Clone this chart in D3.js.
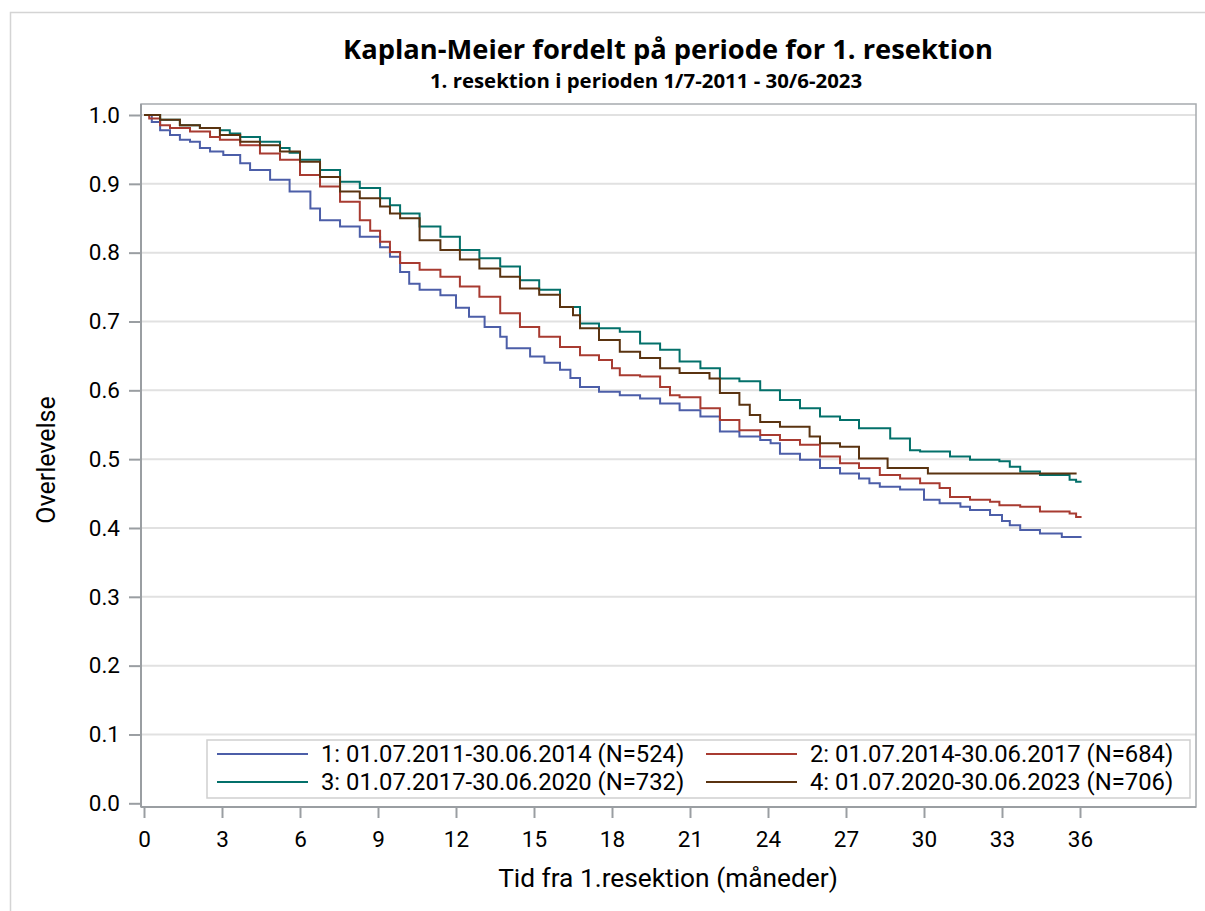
<!DOCTYPE html>
<html>
<head>
<meta charset="utf-8">
<script src="https://cdn.jsdelivr.net/npm/d3@7"></script>
<style>
  body { margin: 0; background: #fff; }
  text { font-family: Roboto, "Open Sans", sans-serif; fill: #000; }
  text.title { font-family: "Open Sans", sans-serif; font-weight: bold; }
</style>
</head>
<body>
<svg width="1205" height="911"></svg>
<script>
// Kaplan-Meier, overlevelse per periode
const labels = [
  "1: 01.07.2011-30.06.2014 (N=524)",
  "2: 01.07.2014-30.06.2017 (N=684)",
  "3: 01.07.2017-30.06.2020 (N=732)",
  "4: 01.07.2020-30.06.2023 (N=706)"
];
const colors = ["#4c5ea8", "#a83b31", "#03706a", "#5a3310"];

const t1 = [0,0.3,0.62,1,1.38,1.77,2.15,2.54,3.05,3.7,4.08,4.85,5.6,6.4,6.77,7.54,8.3,9.08,9.46,9.85,10.2,10.6,11.4,12,12.5,13.1,13.7,13.95,14.85,15.4,16,16.4,16.77,17.5,18.3,19.08,19.85,20.6,21.4,22.15,22.9,23.7,24.1,24.46,25.23,26,26.77,27.5,27.9,28.3,29.08,30,30.6,31.4,31.77,32.54,33,33.3,33.7,34.46,35.3,36.06];
const s1 = [1,0.99,0.978,0.971,0.964,0.961,0.952,0.947,0.942,0.93,0.92,0.906,0.889,0.864,0.847,0.838,0.823,0.808,0.794,0.772,0.755,0.746,0.738,0.72,0.707,0.692,0.678,0.661,0.649,0.64,0.63,0.618,0.605,0.598,0.593,0.588,0.581,0.571,0.562,0.54,0.533,0.528,0.523,0.508,0.499,0.487,0.479,0.472,0.465,0.46,0.456,0.441,0.436,0.431,0.426,0.419,0.41,0.404,0.397,0.392,0.387,0.387];

const t2 = [0,0.2,0.62,1,1.77,2.54,2.92,3.7,4.46,5.23,6,6.77,7.54,8.3,8.7,9.08,9.46,9.85,10.6,11.4,12.15,12.9,13.7,14.46,15.2,16,16.77,17.5,18,18.3,19.08,19.85,20.23,20.6,21.4,22.15,22.9,23.7,24.46,25.23,26,26.77,27.5,28.3,29.08,29.85,30.6,31,31.77,32.54,32.9,33.7,34.46,35.6,35.85,36.06];
const s2 = [1,0.995,0.985,0.981,0.976,0.968,0.964,0.956,0.944,0.935,0.913,0.896,0.874,0.847,0.832,0.816,0.801,0.785,0.775,0.765,0.751,0.736,0.712,0.692,0.678,0.663,0.651,0.644,0.632,0.622,0.62,0.605,0.593,0.59,0.574,0.557,0.542,0.535,0.528,0.521,0.504,0.494,0.487,0.477,0.472,0.465,0.458,0.445,0.441,0.438,0.433,0.431,0.424,0.421,0.416,0.416];

const t3 = [0,0.62,1.38,2.15,2.92,3.3,3.7,4.46,5.23,5.6,6,6.77,7.54,8.3,9.08,9.46,9.85,10.6,11.4,12.15,12.9,13.7,14.46,15.2,16,16.77,17.5,18.3,19.08,19.85,20.6,21.4,22.15,22.9,23.7,24.46,25.23,26,26.77,27.5,28.7,29.46,29.85,31,31.77,32.9,33.3,33.7,34.46,35.6,35.85,36.06];
const s3 = [1,0.993,0.985,0.981,0.978,0.973,0.968,0.961,0.952,0.945,0.935,0.92,0.903,0.894,0.879,0.869,0.857,0.838,0.823,0.804,0.792,0.78,0.76,0.746,0.721,0.697,0.69,0.685,0.668,0.659,0.642,0.632,0.617,0.613,0.6,0.586,0.574,0.562,0.557,0.545,0.53,0.513,0.511,0.504,0.499,0.497,0.489,0.482,0.477,0.47,0.467,0.467];

const t4 = [0,0.62,1.38,2.15,2.92,3.7,4.46,5.23,6,6.77,7.54,8.3,9.08,9.46,9.85,10.6,11.4,12.15,12.9,13.7,14.46,15.2,16,16.5,16.77,17.5,18.3,19.08,19.85,20.6,21.75,22.15,22.9,23.3,23.7,24.46,25.6,26,26.77,27.5,28.6,30.15,35.87];
const s4 = [1,0.993,0.985,0.981,0.971,0.961,0.956,0.947,0.932,0.91,0.889,0.879,0.867,0.857,0.85,0.818,0.804,0.79,0.777,0.765,0.748,0.739,0.721,0.709,0.69,0.673,0.656,0.647,0.632,0.625,0.617,0.596,0.579,0.564,0.554,0.547,0.533,0.523,0.518,0.501,0.487,0.479,0.479];

const times = [t1, t2, t3, t4];
const surv = [s1, s2, s3, s4];
const xTicks = d3.range(0, 37, 3);
const yTicks = d3.range(0, 11).map(d => d / 10);

const svg = d3.select("svg");

// ydre ramme
svg.append("rect")
  .attr("x", 10.5).attr("y", 12.5)
  .attr("width", 1220).attr("height", 920)
  .attr("fill", "none").attr("stroke", "#d4d4d4").attr("stroke-width", 1.5);

const pLeft = 141, pRight = 1196, pTop = 104, pBottom = 807;

const x = d3.scaleLinear().domain([0, 36]).range([144, 1080]);
const y = d3.scaleLinear().domain([0, 1]).range([803.3, 115]);

// gitterlinjer
svg.append("g")
  .selectAll("line")
  .data(yTicks.filter(d => d > 0))
  .enter()
  .append("line")
  .attr("x1", pLeft).attr("x2", pRight)
  .attr("y1", d => y(d)).attr("y2", d => y(d))
  .attr("stroke", "#e1e1e1").attr("stroke-width", 2);

// plotramme
svg.append("rect")
  .attr("x", pLeft).attr("y", pTop)
  .attr("width", pRight - pLeft).attr("height", pBottom - pTop)
  .attr("fill", "none").attr("stroke", "#a7abaf").attr("stroke-width", 1.5);

// kurver
const line = d3.line()
  .x(d => x(d[0]))
  .y(d => y(d[1]))
  .curve(d3.curveStepAfter);

times.forEach((t, i) => {
  svg.append("path")
    .datum(t.map((v, j) => [v, surv[i][j]]))
    .attr("d", line)
    .attr("fill", "none")
    .attr("stroke", colors[i])
    .attr("stroke-width", 2);
});

// akser
const xAxis = d3.axisBottom(x).tickValues(xTicks).tickSize(11).tickPadding(13).tickFormat(d3.format("d"));
const yAxis = d3.axisLeft(y).tickValues(yTicks).tickSize(12).tickPadding(9).tickFormat(d3.format(".1f"));

const gx = svg.append("g")
  .attr("transform", "translate(0," + pBottom + ")")
  .call(xAxis);
gx.select(".domain").attr("d", "M" + pLeft + ",0H" + pRight);

const gy = svg.append("g")
  .attr("transform", "translate(" + pLeft + ",0)")
  .call(yAxis);
gy.select(".domain").attr("d", "M0," + pTop + "V" + pBottom);

svg.selectAll(".domain").attr("stroke", "#9a9ea2").attr("stroke-width", 2);
svg.selectAll(".tick line").attr("stroke", "#9a9ea2").attr("stroke-width", 2);
svg.selectAll(".tick text")
  .attr("font-family", null)
  .attr("font-size", 22.5)
  .attr("fill", "#000");

// titler
svg.append("text")
  .attr("class", "title")
  .attr("x", 668).attr("y", 59)
  .attr("text-anchor", "middle")
  .attr("font-size", 27.3)
  .text("Kaplan-Meier fordelt på periode for 1. resektion");

svg.append("text")
  .attr("class", "title")
  .attr("x", 646).attr("y", 88)
  .attr("text-anchor", "middle")
  .attr("font-size", 20.4)
  .text("1. resektion i perioden 1/7-2011 - 30/6-2023");

svg.append("text")
  .attr("x", 668).attr("y", 887)
  .attr("text-anchor", "middle")
  .attr("font-size", 26.3)
  .text("Tid fra 1.resektion (måneder)");

svg.append("text")
  .attr("transform", "translate(55,460) rotate(-90)")
  .attr("text-anchor", "middle")
  .attr("font-size", 25)
  .text("Overlevelse");

// legende
const legend = svg.append("g");
legend.append("rect")
  .attr("x", 207).attr("y", 740)
  .attr("width", 983).attr("height", 58)
  .attr("fill", "#fff").attr("stroke", "#cfcfcf").attr("stroke-width", 1.5);

const legX = [217, 706];
const legY = [754, 782];
labels.forEach((lab, i) => {
  const lx = legX[i % 2], ly = legY[Math.floor(i / 2)];
  legend.append("line")
    .attr("x1", lx).attr("x2", lx + 91)
    .attr("y1", ly).attr("y2", ly)
    .attr("stroke", colors[i]).attr("stroke-width", 2);
  legend.append("text")
    .attr("x", lx + 104).attr("y", ly + 8)
    .attr("font-size", 23.8)
    .text(lab);
});
</script>
</body>
</html>
